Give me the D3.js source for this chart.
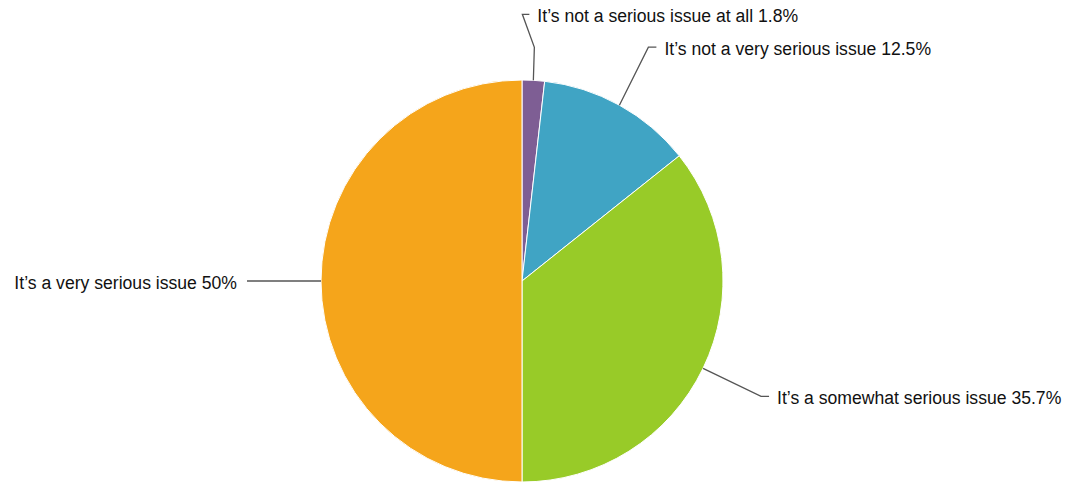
<!DOCTYPE html>
<html><head><meta charset="utf-8">
<script src="https://cdn.jsdelivr.net/npm/d3@7"></script>
<style>body{margin:0;background:#fff}svg{display:block}</style>
</head><body>
<svg id="c" width="1071" height="483"></svg>
<script>
const categories = ["It’s not a serious issue at all","It’s not a very serious issue","It’s a somewhat serious issue","It’s a very serious issue"];
const values = [1.8, 12.5, 35.7, 50];
const valueLabels = ["1.8%","12.5%","35.7%","50%"];
const colors = ["#7e5e94","#40a4c4","#98cb28","#f5a51b"];

const svg = d3.select("#c");
const cx = 522, cy = 281, r = 201;
const g = svg.append("g").attr("transform",`translate(${cx},${cy})`);
const pie = d3.pie().sort(null).value(d=>d)(values);
const arc = d3.arc().innerRadius(0).outerRadius(r);
g.selectAll("path.s").data(pie).join("path").attr("class","s")
  .attr("d",arc).attr("fill",(d,i)=>colors[i]).attr("stroke","#fff").attr("stroke-width",1).attr("stroke-linejoin","round");

const labelPos = [
  {bend:[1,-33], elbow:[-11,-66], end:[-4,-66], side:"r"},
  {bend:[29,-58], elbow:[29,-58], end:[37,-58], side:"r"},
  {bend:[58,28], elbow:[58,28], end:[66,28], side:"r"},
  {bend:[-74,0], elbow:[-74,0], end:[-74,0], side:"l"}
];
pie.forEach((d,i)=>{
  const a = (d.startAngle+d.endAngle)/2;
  const ex = Math.sin(a)*r, ey = -Math.cos(a)*r;
  const p = labelPos[i];
  const pts = [[ex,ey],[ex+p.bend[0],ey+p.bend[1]],[ex+p.elbow[0],ey+p.elbow[1]],[ex+p.end[0],ey+p.end[1]]];
  g.append("path").attr("d",d3.line()(pts)).attr("fill","none").attr("stroke","#555").attr("stroke-width",1.3);
  const tx = pts[3][0] + (p.side==="r"?8:-10);
  g.append("text").attr("x",tx).attr("y",pts[3][1]+2).attr("dy","0.35em")
    .attr("text-anchor",p.side==="r"?"start":"end")
    .attr("font-family","Liberation Sans, Arial, sans-serif").attr("font-size",17.6).attr("fill","#111")
    .text(categories[i]+" "+valueLabels[i]);
});
</script>
</body></html>
